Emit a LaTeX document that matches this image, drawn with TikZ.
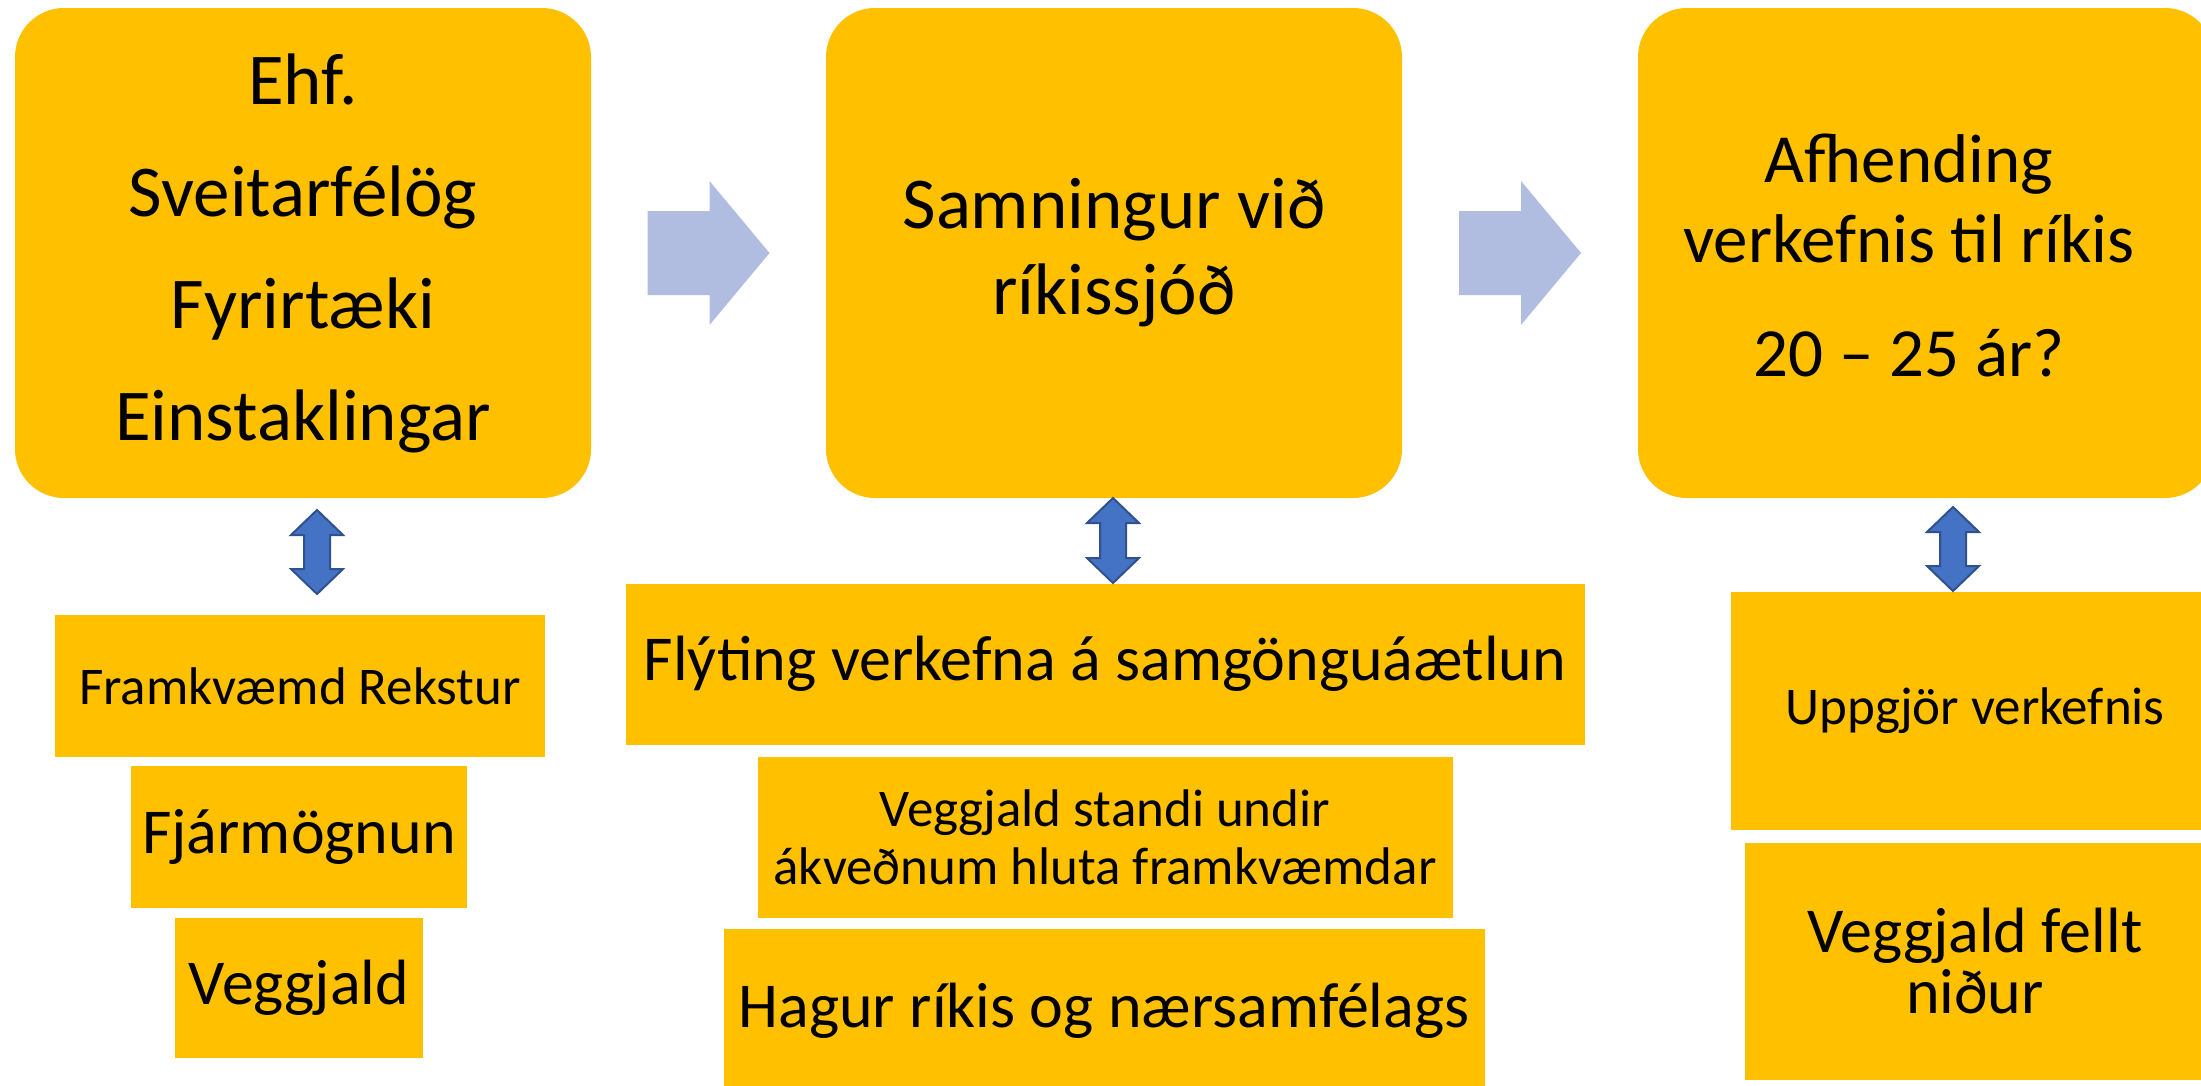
\documentclass[tikz,border=0pt]{standalone}
\usepackage{fontspec}
\setmainfont{Carlito}
\usetikzlibrary{calc}

\definecolor{boxorange}{HTML}{FFC000}
\definecolor{flowblue}{HTML}{B0BDE0}
\definecolor{linkblue}{HTML}{4472C4}
\definecolor{linkedge}{HTML}{2F528F}

\begin{document}
\begin{tikzpicture}[x=1pt,y=-1pt,
  stage/.style={fill=boxorange, rounded corners=49pt, inner sep=0pt, align=center, minimum width=576pt, minimum height=490pt},
  part/.style={fill=boxorange, inner sep=0pt, align=center},
  flow/.style={fill=flowblue},
  link/.style={fill=linkblue, draw=linkedge, line width=2pt}]

\useasboundingbox (0,0) rectangle (2201,1085);

% Draw the three stages
\node[stage, font=\fontsize{73}{112}\selectfont] (firm) at (303,253) {Ehf.\\Sveitarfélög\\Fyrirtæki\\Einstaklingar};
\node[stage, font=\fontsize{73}{86}\selectfont] (deal) at (1114,253) {Samningur við\\ríkissjóð};
\node[stage] (handover) at (1926,253) {};
\node[align=center, inner sep=0pt, font=\fontsize{69}{80}\selectfont] (handovertext) at (1909,255) {Afhending\\verkefnis til ríkis\\[34pt]20 – 25 ár?};

% Draw the block arrows between the stages
\foreach \a/\b in {firm/deal, deal/handover}
  \fill[flow] ($(\a.east)!0.5!(\b.west)$) ++(-61,-42) -- ++(62,0) -- ++(0,-30) -- ++(60,72) -- ++(-60,72) -- ++(0,-30) -- ++(-62,0) -- cycle;

% Draw the boxes under the first stage
\node[part, minimum width=490pt, minimum height=142pt, font=\fontsize{53}{62}\selectfont] (build) at (300,686) {Framkvæmd Rekstur};
\node[part, minimum width=336pt, minimum height=142pt, font=\fontsize{64}{76}\selectfont] (funding) at (299,837) {Fjármögnun};
\node[part, minimum width=248pt, minimum height=140pt, font=\fontsize{64}{76}\selectfont] (toll) at (299,988) {Veggjald};

% Draw the boxes under the second stage
\node[part, minimum width=959pt, minimum height=161pt, font=\fontsize{64}{76}\selectfont] (speedup) at (1105,664) {Flýting verkefna á samgönguáætlun};
\node[part, minimum width=695pt, minimum height=161pt, font=\fontsize{53}{58}\selectfont] (share) at (1105,837) {Veggjald standi undir\\ákveðnum hluta framkvæmdar};
\node[part, minimum width=761pt, minimum height=164pt, font=\fontsize{64}{76}\selectfont] (gain) at (1104,1011) {Hagur ríkis og nærsamfélags};

% Draw the boxes under the third stage
\node[part, minimum width=488pt, minimum height=238pt, font=\fontsize{53}{62}\selectfont] (settle) at (1975,711) {Uppgjör verkefnis};
\node[part, minimum width=460pt, minimum height=237pt, font=\fontsize{64}{62}\selectfont] (tollend) at (1975,961) {Veggjald fellt\\niður};

% Draw the double arrows under each stage
\foreach \x/\t/\b in {317/510/594, 1113/498/583, 1953/507/591}
  \filldraw[link] (\x,\t) -- ++(26,25) -- ++(-13,0) -- (\x+13,\b-25) -- ++(13,0) -- (\x,\b) -- ++(-26,-25) -- ++(13,0) -- (\x-13,\t+25) -- ++(-13,0) -- cycle;

\end{tikzpicture}
\end{document}
